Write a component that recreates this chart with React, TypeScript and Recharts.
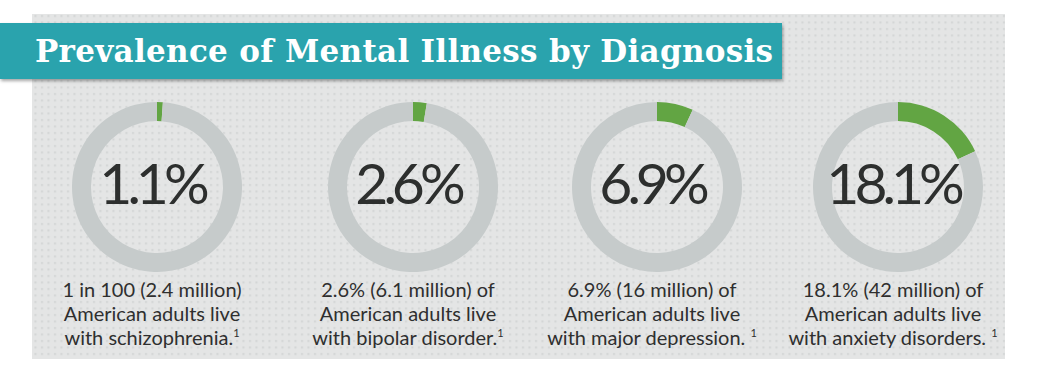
import { PieChart, Pie, Cell } from "recharts";

const TITLE = "Prevalence of Mental Illness by Diagnosis";
const PERCENTS = [1.1, 2.6, 6.9, 18.1];
const PERCENT_LABELS = ["1.1%", "2.6%", "6.9%", "18.1%"];
const CAPTIONS = [
  ["1 in 100 (2.4 million)", "American adults live", "with schizophrenia."],
  ["2.6% (6.1 million) of", "American adults live", "with bipolar disorder."],
  ["6.9% (16 million) of", "American adults live", "with major depression. "],
  ["18.1% (42 million) of", "American adults live", "with anxiety disorders. "],
];

const W = 1041;
const H = 378;
const CENTERS = [152, 408, 652, 893];
const CY = 182;
const GREEN = "#62a543";
const RING = "#c6cbcb";

export default function App() {
  return (
    <div
      style={{
        position: "absolute",
        left: 0,
        top: 0,
        width: W,
        height: H,
        background: "#fff",
        overflow: "hidden",
        fontFamily: "Lato, sans-serif",
      }}
    >
      {/* dotted panel */}
      <svg width={W} height={H} style={{ position: "absolute", left: 0, top: 0 }}>
        <defs>
          <pattern id="dots" width="6.5" height="6.5" patternUnits="userSpaceOnUse">
            <rect width="6.5" height="6.5" fill="#e4e5e5" />
            <rect x="2" y="2" width="2" height="2" fill="#d3d5d5" />
          </pattern>
        </defs>
        <rect x={32} y={14} width={973} height={345} fill="url(#dots)" />
      </svg>

      {/* title banner */}
      <div
        style={{
          position: "absolute",
          left: 0,
          top: 23,
          width: 782,
          height: 56,
          background: "#2aa3ad",
          boxShadow: "1px 2px 3px rgba(0,0,0,0.35)",
        }}
      />
      <div
        style={{
          position: "absolute",
          left: 35,
          top: 29,
          color: "#fff",
          fontFamily: "'DejaVu Serif', serif",
          fontWeight: "bold",
          fontSize: 31,
          letterSpacing: 0.3,
          lineHeight: "44px",
          whiteSpace: "nowrap",
        }}
      >
        {TITLE}
      </div>

      <PieChart width={W} height={H} style={{ position: "absolute", left: 0, top: 0 }}>
        {PERCENTS.map((p, i) => (
          <Pie
            key={i}
            data={[
              { name: "share", value: p },
              { name: "rest", value: 100 - p },
            ]}
            dataKey="value"
            cx={CENTERS[i]}
            cy={CY}
            innerRadius={66}
            outerRadius={85}
            startAngle={90}
            endAngle={-270}
            stroke="none"
            isAnimationActive={false}
          >
            <Cell fill={GREEN} />
            <Cell fill={RING} />
          </Pie>
        ))}
      </PieChart>

      {PERCENT_LABELS.map((t, i) => (
        <div
          key={t}
          style={{
            position: "absolute",
            left: CENTERS[i] - 100,
            width: 200,
            top: CY - 36,
            height: 72,
            lineHeight: "72px",
            textAlign: "center",
            color: "#2d2f2e",
            fontSize: 57,
            letterSpacing: -5,
          }}
        >
          {t}
        </div>
      ))}

      {CAPTIONS.map((lines, i) => (
        <div
          key={i}
          style={{
            position: "absolute",
            left: CENTERS[i] - 130,
            width: 260,
            top: 277,
            textAlign: "center",
            color: "#2f2f2f",
            fontSize: 20,
            lineHeight: "24px",
          }}
        >
          {lines.map((l, j) => (
            <div key={j}>
              {l}
              {j === 2 && <sup style={{ fontSize: 11, lineHeight: 0 }}>1</sup>}
            </div>
          ))}
        </div>
      ))}
    </div>
  );
}
